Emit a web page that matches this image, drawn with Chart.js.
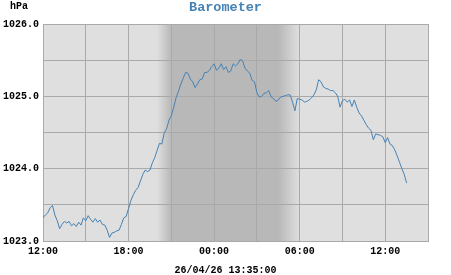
<!DOCTYPE html>
<html>
<head>
<meta charset="utf-8">
<script src="https://cdn.jsdelivr.net/npm/chart.js@4"></script>
<style>
  html, body { margin: 0; padding: 0; background: #fff; }
</style>
</head>
<body>
<canvas id="baroChart" width="451" height="275"></canvas>
<script>
// barometer readings, one every 10 minutes from 12:00
const startHour = 12;
const stepMinutes = 10;
const pressure = [
    1023.32, 1023.36, 1023.39, 1023.46, 1023.49, 1023.36, 1023.28, 1023.17, 1023.23, 1023.27,
    1023.25, 1023.27, 1023.21, 1023.24, 1023.20, 1023.26, 1023.22, 1023.32, 1023.28, 1023.35,
    1023.30, 1023.26, 1023.31, 1023.26, 1023.29, 1023.23, 1023.22, 1023.15, 1023.05, 1023.11,
    1023.12, 1023.14, 1023.15, 1023.23, 1023.32, 1023.34, 1023.45, 1023.56, 1023.64, 1023.70,
    1023.74, 1023.83, 1023.92, 1023.98, 1023.96, 1023.98, 1024.08, 1024.15, 1024.25, 1024.35,
    1024.34, 1024.49, 1024.55, 1024.67, 1024.73, 1024.85, 1024.98, 1025.07, 1025.17, 1025.25,
    1025.33, 1025.32, 1025.24, 1025.20, 1025.12, 1025.17, 1025.23, 1025.24, 1025.33, 1025.33,
    1025.36, 1025.41, 1025.45, 1025.36, 1025.39, 1025.45, 1025.37, 1025.41, 1025.33, 1025.35,
    1025.45, 1025.42, 1025.45, 1025.51, 1025.49, 1025.39, 1025.35, 1025.32, 1025.22, 1025.20,
    1025.05, 1024.99, 1025.00, 1025.04, 1025.05, 1025.08, 1024.99, 1024.97, 1024.93, 1024.95,
    1024.99, 1025.00, 1025.01, 1025.02, 1025.02, 1024.92, 1024.80, 1024.97, 1024.96, 1024.95,
    1024.92, 1024.93, 1024.95, 1024.98, 1025.02, 1025.09, 1025.23, 1025.20, 1025.13, 1025.11,
    1025.10, 1025.08, 1025.08, 1025.05, 1025.00, 1024.85, 1024.94, 1024.96, 1024.92, 1024.95,
    1024.86, 1024.95, 1024.85, 1024.77, 1024.73, 1024.67, 1024.61, 1024.56, 1024.53, 1024.40,
    1024.48, 1024.47, 1024.46, 1024.44, 1024.36, 1024.43, 1024.34, 1024.32, 1024.26, 1024.18,
    1024.09, 1024.00, 1023.92, 1023.80
];
const xTickLabels = ['12:00', '18:00', '00:00', '06:00', '12:00'];
const yTickLabels = ['1023.0', '1024.0', '1025.0', '1026.0'];
const spanHours = 27;

// twilight, in hours after 12:00
const duskStart = 8, duskEnd = 9, dawnStart = 16.5, dawnEnd = 18;

const titleText = 'Barometer';
const unitText = 'hPa';
const stampText = '26/04/26 13:35:00';

const monoFont = "'Liberation Mono', 'DejaVu Sans Mono', monospace";
const lineColor = '#4682b4';
const gridColor = '#a9a9a9';

const points = pressure.map((v, i) => ({ x: i * stepMinutes / 60, y: v }));

// plot background, night band and the loose texts
const backdrop = {
    id: 'backdrop',
    beforeDraw(chart) {
        const { ctx, chartArea: a, scales } = chart;
        ctx.save();
        ctx.fillStyle = '#dfdfdf';
        ctx.fillRect(a.left, a.top, a.right - a.left, a.bottom - a.top);
        const x0 = scales.x.getPixelForValue(duskStart);
        const x1 = scales.x.getPixelForValue(dawnEnd);
        const total = dawnEnd - duskStart;
        const g = ctx.createLinearGradient(x0, 0, x1, 0);
        g.addColorStop(0, 'rgba(184,184,184,0)');
        g.addColorStop((duskEnd - duskStart) / total, 'rgba(184,184,184,1)');
        g.addColorStop((dawnStart - duskStart) / total, 'rgba(184,184,184,1)');
        g.addColorStop(1, 'rgba(184,184,184,0)');
        ctx.fillStyle = g;
        ctx.fillRect(x0, a.top, x1 - x0, a.bottom - a.top);
        ctx.restore();
    },
    afterDraw(chart) {
        const ctx = chart.ctx;
        ctx.save();
        ctx.textBaseline = 'middle';
        ctx.fillStyle = lineColor;
        ctx.font = 'bold 13.5px ' + monoFont;
        ctx.textAlign = 'center';
        ctx.fillText(titleText, 225.5, 7.5);
        ctx.fillStyle = '#000';
        ctx.font = 'bold 10px ' + monoFont;
        ctx.fillText(stampText, 225.5, 270);
        ctx.textAlign = 'left';
        ctx.fillText(unitText, 10, 6);
        ctx.restore();
    }
};

const ctx = document.getElementById('baroChart').getContext('2d');
const baroChart = new Chart(ctx, {
    type: 'line',
    data: {
        datasets: [{
            label: 'Barometer',
            data: points,
            borderColor: lineColor,
            borderWidth: 1,
            pointRadius: 0,
            tension: 0,
            fill: false
        }]
    },
    options: {
        responsive: false,
        animation: false,
        layout: { padding: { top: 24, right: 23, bottom: 0, left: 0 } },
        plugins: {
            legend: { display: false },
            title: { display: false },
            tooltip: { enabled: false }
        },
        scales: {
            x: {
                type: 'linear',
                min: 0,
                max: spanHours,
                afterFit: s => { s.height = 34; },
                grid: { color: gridColor, drawTicks: false },
                border: { color: gridColor },
                ticks: {
                    stepSize: 3,
                    autoSkip: false,
                    maxRotation: 0,
                    padding: 4,
                    color: '#000',
                    font: { family: monoFont, size: 10, weight: 'bold' },
                    callback: v => (v % 6 === 0 ? xTickLabels[v / 6] : '')
                }
            },
            y: {
                min: 1023,
                max: 1026,
                afterFit: s => { s.width = 43; },
                grid: { color: gridColor, drawTicks: false },
                border: { color: gridColor },
                ticks: {
                    stepSize: 0.5,
                    padding: 4,
                    color: '#000',
                    font: { family: monoFont, size: 10, weight: 'bold' },
                    callback: v => (yTickLabels.includes(v.toFixed(1)) ? v.toFixed(1) : '')
                }
            }
        }
    },
    plugins: [backdrop]
});
</script>
</body>
</html>
